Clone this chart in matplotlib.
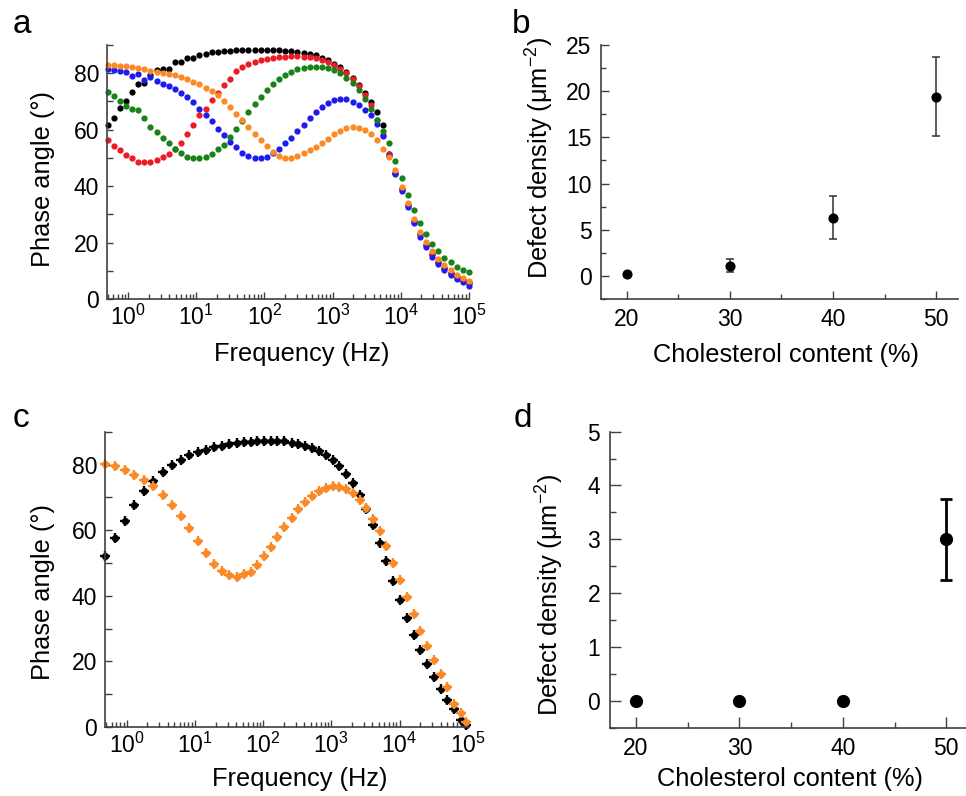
import numpy as np
import matplotlib
matplotlib.use("Agg")
import matplotlib.pyplot as plt
from matplotlib.ticker import MultipleLocator, LogLocator, NullFormatter

plt.rcParams['font.family'] = ['Liberation Sans', 'DejaVu Sans']
plt.rcParams['mathtext.fontset'] = 'custom'
plt.rcParams['mathtext.rm'] = 'Liberation Sans'
plt.rcParams['mathtext.it'] = 'Liberation Sans:italic'
plt.rcParams['mathtext.bf'] = 'Liberation Sans:bold'

# ---------------- Panel a data ----------------
freq_a = np.logspace(np.log10(0.5), 5, 60)
phase_a_black = [61.6, 64.3, 67.7, 70.1, 73.3, 76.3, 76.6, 79.5, 81.0, 81.4,
                 81.6, 83.8, 83.8, 85.4, 85.4, 86.4, 86.9, 87.4, 87.6, 87.8,
                 87.9, 88.1, 88.1, 88.2, 88.2, 88.2, 88.2, 88.2, 88.1, 88.0,
                 87.9, 87.6, 87.3, 86.9, 86.4, 85.5, 84.6, 83.3, 82.2, 80.6,
                 78.4, 76.0, 73.1, 69.8, 66.2, 61.7, 51.3, 44.7, 38.8, 33.3,
                 27.7, 23.0, 19.1, 15.9, 13.2, 11.1, 9.3, 7.9, 6.7, 5.5]
phase_a_red = [56.3, 54.3, 52.7, 50.9, 50.0, 48.6, 48.6, 48.4, 49.2, 50.4,
               51.5, 53.3, 55.3, 58.4, 61.6, 65.1, 67.5, 70.4, 73.1, 75.7,
               78.1, 80.8, 82.2, 83.2, 84.0, 84.6, 85.1, 85.5, 85.8, 85.9,
               86.0, 86.0, 85.9, 85.8, 85.3, 84.8, 84.0, 83.0, 81.6, 80.1,
               78.1, 75.5, 72.4, 68.7, 63.6, 58.0, 51.3, 44.7, 38.8, 33.3,
               27.7, 23.0, 19.1, 15.9, 13.2, 11.1, 9.3, 7.9, 6.7, 5.5]
phase_a_blue = [81.6, 81.3, 80.9, 80.5, 79.0, 79.9, 77.5, 78.7, 77.3, 76.3,
                75.5, 74.3, 73.0, 71.6, 69.8, 67.5, 65.1, 63.1, 60.4, 58.0,
                55.7, 53.7, 51.8, 50.6, 49.8, 49.8, 50.4, 51.8, 53.0, 55.1,
                57.2, 59.6, 61.8, 64.2, 66.3, 68.1, 69.5, 70.4, 70.8, 70.7,
                69.8, 68.7, 67.1, 65.1, 61.9, 57.7, 50.6, 44.2, 38.3, 32.7,
                27.1, 21.8, 18.3, 15.0, 12.4, 10.2, 8.5, 7.1, 5.9, 4.7]
phase_a_green = [73.4, 71.8, 70.2, 68.3, 67.5, 66.8, 64.3, 61.0, 59.0, 57.1,
                 55.1, 53.3, 51.8, 50.4, 49.8, 49.8, 50.4, 51.5, 53.0, 54.5,
                 57.4, 60.2, 63.1, 66.1, 69.0, 71.6, 74.0, 76.3, 77.9, 79.3,
                 80.5, 81.4, 82.0, 82.2, 82.2, 82.2, 81.9, 81.3, 80.1, 78.3,
                 76.6, 74.0, 71.0, 67.5, 63.3, 59.4, 55.1, 48.8, 42.7, 37.0,
                 31.5, 26.8, 23.0, 19.6, 17.0, 14.6, 13.0, 11.4, 10.2, 9.6]
phase_a_orange = [83.0, 82.9, 82.7, 82.5, 82.2, 81.9, 81.4, 80.8, 80.5, 80.2,
                  79.9, 79.3, 78.7, 77.9, 76.9, 76.1, 74.9, 73.6, 72.2, 70.1,
                  68.1, 65.7, 63.3, 61.0, 58.4, 56.3, 54.1, 52.1, 50.7, 50.1,
                  50.1, 50.7, 51.8, 52.7, 53.9, 55.3, 56.8, 58.3, 59.6, 60.6,
                  61.0, 60.7, 59.8, 58.3, 56.3, 53.3, 50.4, 45.6, 39.7, 34.1,
                  28.3, 23.8, 20.3, 17.0, 14.0, 12.0, 10.2, 8.5, 7.3, 6.5]

# ---------------- Panel b data ----------------
chol_b = [20, 30, 40, 50]
density_b = [0.2, 1.1, 6.3, 19.4]
density_b_err = [0.15, 0.72, 2.3, 4.3]

# ---------------- Panel c data ----------------
freq_c = [0.48, 0.67, 0.94, 1.29, 1.79, 2.45, 3.37, 4.57, 6.19, 8.28,
          11.1, 14.6, 19.1, 24.7, 32.0, 41.0, 52.5, 65.8, 82.4, 103,
          129, 162, 205, 262, 328, 411, 516, 661, 828, 1050,
          1310, 1660, 2080, 2610, 3260, 4080, 5130, 6400, 8110, 10200,
          12700, 16100, 20200, 25300, 31700, 40200, 50200, 63000, 78900, 94400]
phase_c_black = [52.1, 57.5, 62.9, 67.7, 71.8, 75.1, 77.8, 80.0, 81.4, 82.8,
                 83.7, 84.5, 85.2, 85.7, 86.2, 86.5, 86.9, 86.9, 87.1, 87.2,
                 87.2, 87.2, 87.1, 86.7, 86.2, 85.7, 85.0, 84.0, 82.9, 81.3,
                 79.4, 77.1, 74.3, 70.8, 66.5, 61.6, 56.2, 50.5, 44.4, 38.6,
                 33.2, 28.0, 23.4, 19.1, 15.3, 11.6, 8.2, 5.4, 2.1, 0.5]
phase_c_orange = [80.3, 79.4, 78.4, 76.9, 75.3, 73.3, 70.8, 67.8, 64.3, 60.7,
                  56.8, 53.0, 49.7, 47.5, 46.2, 45.7, 46.7, 47.2, 49.5, 52.0,
                  54.8, 57.8, 60.9, 63.7, 66.4, 68.7, 70.4, 71.8, 72.8, 73.4,
                  73.1, 72.5, 71.2, 69.2, 66.6, 63.4, 59.6, 55.1, 50.0, 44.7,
                  39.6, 34.3, 29.3, 24.7, 20.4, 16.1, 12.1, 7.0, 4.2, 1.6]

# ---------------- Panel d data ----------------
chol_d = [20, 30, 40, 50]
density_d = [0.0, 0.0, 0.0, 3.0]
density_d_err = [0.0, 0.0, 0.0, 0.75]

C_BLACK = '#000000'
C_RED = '#ec1c24'
C_BLUE = '#1c1cf0'
C_GREEN = '#178217'
C_ORANGE = '#fb8a26'
SPINE = '#404040'

W, H = 966, 796
fig = plt.figure(figsize=(W / 100, H / 100), dpi=100)


def rect(l, r, t, b):
    return [l / W, 1 - b / H, (r - l) / W, (b - t) / H]


def style(ax, tick_fs, maj_len, min_len, pad):
    for s in ['top', 'right']:
        ax.spines[s].set_visible(False)
    for s in ['left', 'bottom']:
        ax.spines[s].set_color(SPINE)
        ax.spines[s].set_linewidth(1.2)
    ax.tick_params(which='both', direction='in', color=SPINE, width=1.0,
                   labelsize=tick_fs, pad=pad)
    ax.tick_params(which='major', length=maj_len)
    ax.tick_params(which='minor', length=min_len)


LABEL_FS = 18.3

# ---- a ----
ax_a = fig.add_axes(rect(107, 469, 45, 299))
for vals, c in [(phase_a_black, C_BLACK), (phase_a_red, C_RED),
                (phase_a_blue, C_BLUE), (phase_a_green, C_GREEN),
                (phase_a_orange, C_ORANGE)]:
    ax_a.plot(freq_a, vals, 'o', color=c, ms=4.5, mec='none', clip_on=False)
ax_a.set_xscale('log')
ax_a.set_xlim(10 ** -0.31, 1e5)
ax_a.set_ylim(0, 90)
ax_a.yaxis.set_major_locator(MultipleLocator(20))
ax_a.yaxis.set_minor_locator(MultipleLocator(10))
ax_a.xaxis.set_major_locator(LogLocator(base=10, numticks=10))
ax_a.xaxis.set_minor_locator(LogLocator(base=10, subs=np.arange(2, 10), numticks=20))
ax_a.xaxis.set_minor_formatter(NullFormatter())
style(ax_a, 16.5, 5, 3.5, 5.5)
ax_a.tick_params(axis='y', which='both', length=4)
ax_a.tick_params(axis='x', labelsize=16.5, pad=4)
ax_a.set_ylabel('Phase angle (°)', fontsize=LABEL_FS)
ax_a.set_xlabel('Frequency (Hz)', fontsize=LABEL_FS)
ax_a.yaxis.set_label_coords(-0.144, 0.472)
ax_a.xaxis.set_label_coords(0.538, -0.168)

# ---- b ----
ax_b = fig.add_axes(rect(600.7, 958, 45, 299))
ax_b.errorbar(chol_b, density_b, yerr=density_b_err, fmt='o', color='black',
              ms=6.3, ecolor='#303030', elinewidth=1.1, capsize=3.2, capthick=1.1)
ax_b.set_xlim(17.5, 52.1)
ax_b.set_ylim(-2.5, 25)
ax_b.yaxis.set_major_locator(MultipleLocator(5))
ax_b.yaxis.set_minor_locator(MultipleLocator(2.5))
ax_b.xaxis.set_major_locator(MultipleLocator(10))
ax_b.xaxis.set_minor_locator(MultipleLocator(5))
style(ax_b, 16.5, 6, 3.5, 6.5)
ax_b.set_ylabel('Defect density (μm$^{-2}$)', fontsize=LABEL_FS)
ax_b.set_xlabel('Cholesterol content (%)', fontsize=LABEL_FS)
ax_b.yaxis.set_label_coords(-0.125, 0.555)
ax_b.xaxis.set_label_coords(0.519, -0.172)

# ---- c ----
ax_c = fig.add_axes(rect(105, 467.7, 431.7, 727))
for vals, c in [(phase_c_black, C_BLACK), (phase_c_orange, C_ORANGE)]:
    ax_c.plot(freq_c, vals, 'o', color=c, ms=5.2, mec='none', clip_on=False)
    ax_c.plot(freq_c, vals, '+', color=c, ms=6.8, mew=1.7, clip_on=False)
ax_c.set_xscale('log')
ax_c.set_xlim(10 ** -0.32, 1e5)
ax_c.set_ylim(0, 90)
ax_c.yaxis.set_major_locator(MultipleLocator(20))
ax_c.yaxis.set_minor_locator(MultipleLocator(10))
ax_c.xaxis.set_major_locator(LogLocator(base=10, numticks=10))
ax_c.xaxis.set_minor_locator(LogLocator(base=10, subs=np.arange(2, 10), numticks=20))
ax_c.xaxis.set_minor_formatter(NullFormatter())
style(ax_c, 16.5, 5, 3.5, 5.5)
ax_c.tick_params(axis='y', which='both', length=5)
ax_c.tick_params(axis='x', labelsize=16.5, pad=4)
ax_c.set_ylabel('Phase angle (°)', fontsize=LABEL_FS)
ax_c.set_xlabel('Frequency (Hz)', fontsize=LABEL_FS)
ax_c.yaxis.set_label_coords(-0.138, 0.457)
ax_c.xaxis.set_label_coords(0.538, -0.135)

# ---- d ----
ax_d = fig.add_axes(rect(610, 966, 431.7, 727.5))
ax_d.errorbar(chol_d, density_d, yerr=density_d_err, fmt='o', color='black',
              ms=8.5, ecolor='black', elinewidth=2, capsize=4.3, capthick=2,
              clip_on=False)
ax_d.set_xlim(17.5, 51.9)
ax_d.set_ylim(-0.5, 5)
ax_d.yaxis.set_major_locator(MultipleLocator(1))
ax_d.yaxis.set_minor_locator(MultipleLocator(0.5))
ax_d.xaxis.set_major_locator(MultipleLocator(10))
ax_d.xaxis.set_minor_locator(MultipleLocator(5))
style(ax_d, 16.5, 8, 4.5, 7)
ax_d.set_ylabel('Defect density (μm$^{-2}$)', fontsize=LABEL_FS)
ax_d.set_xlabel('Cholesterol content (%)', fontsize=LABEL_FS)
ax_d.yaxis.set_label_coords(-0.125, 0.448)
ax_d.xaxis.set_label_coords(0.506, -0.133)

# panel letters
for letter, x, y in [('a', 13, 33), ('b', 512, 33), ('c', 13, 427), ('d', 514, 427)]:
    fig.text(x / W, 1 - y / H, letter, fontsize=24, va='baseline', ha='left')

fig.savefig('out.png', dpi=100)
